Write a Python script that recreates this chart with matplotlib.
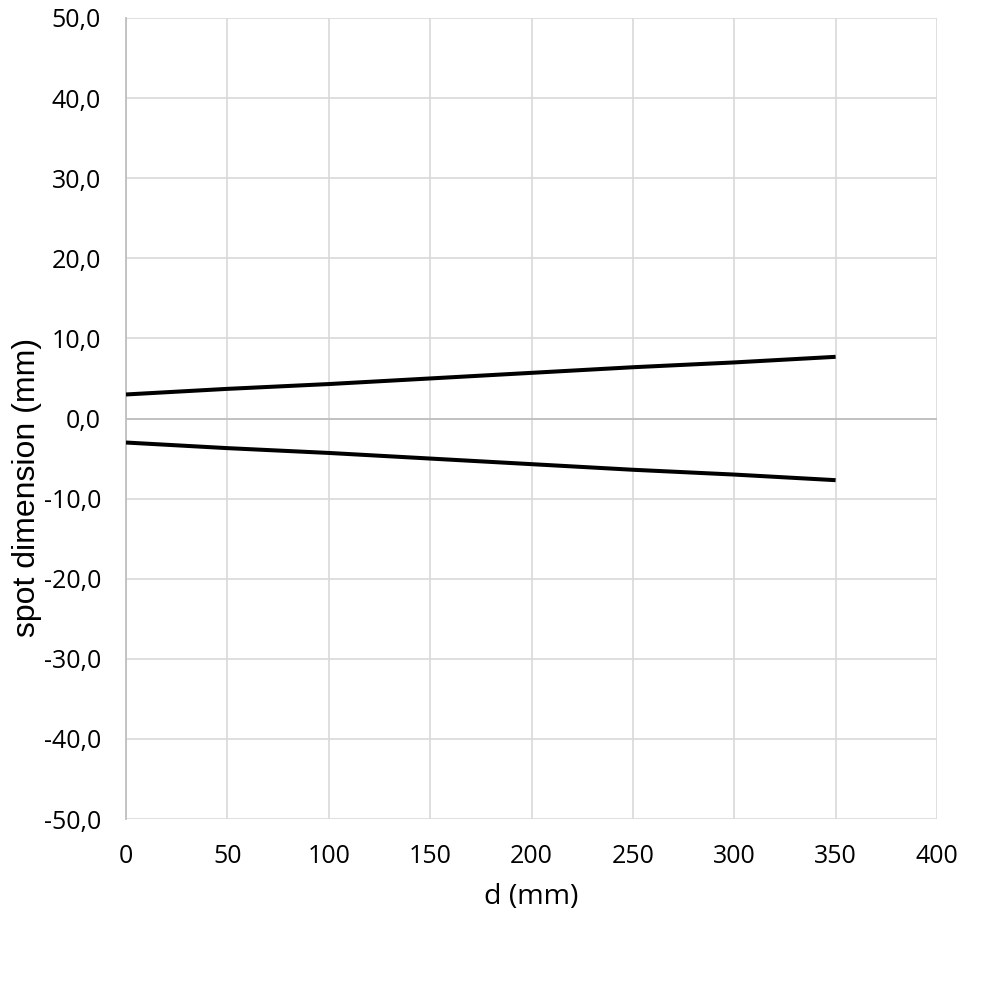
import numpy as np
import matplotlib
matplotlib.use('Agg')
import matplotlib.pyplot as plt

# distance (mm) and spot half-width (mm)
d = [0, 50, 100, 150, 200, 250, 300, 350]
upper = [3.0, 3.7, 4.3, 5.0, 5.7, 6.4, 7.0, 7.7]
lower = [-3.0, -3.7, -4.3, -5.0, -5.7, -6.4, -7.0, -7.7]

x_ticks = [0, 50, 100, 150, 200, 250, 300, 350, 400]
y_ticks = [-50, -40, -30, -20, -10, 0, 10, 20, 30, 40, 50]

fig = plt.figure(figsize=(10, 10), dpi=100)
ax = fig.add_axes([0.126, 0.181, 0.811, 0.801])

ax.plot(d, upper, color='black', lw=2.9, solid_capstyle='butt', zorder=3)
ax.plot(d, lower, color='black', lw=2.9, solid_capstyle='butt', zorder=3)

ax.set_xlim(0, 400)
ax.set_ylim(-50, 50)
ax.set_xticks(x_ticks)
ax.set_yticks(y_ticks)
ax.set_yticklabels([("%.1f" % v).replace('.', ',') for v in y_ticks])
ax.grid(True, color='#d9d9d9', lw=1.2)
ax.axhline(0, color='#bfbfbf', lw=1.3, zorder=2)

for s in ['top', 'right', 'bottom']:
    ax.spines[s].set_visible(False)
ax.spines['left'].set_color('#bfbfbf')
ax.spines['left'].set_linewidth(1.3)

ax.tick_params(length=0)
ax.tick_params(axis='y', pad=18)
ax.tick_params(axis='x', pad=18)
for lab in ax.get_xticklabels() + ax.get_yticklabels():
    lab.set_fontfamily('Open Sans')
    lab.set_fontsize(18)

ax.set_xlabel('d (mm)', fontsize=20.5, fontfamily='Open Sans', labelpad=10)
ax.set_ylabel('spot dimension (mm)', fontsize=23, fontfamily='Liberation Sans')
ax.yaxis.set_label_coords(-0.104, 0.414)

fig.savefig('out.png', dpi=100, facecolor='white')
